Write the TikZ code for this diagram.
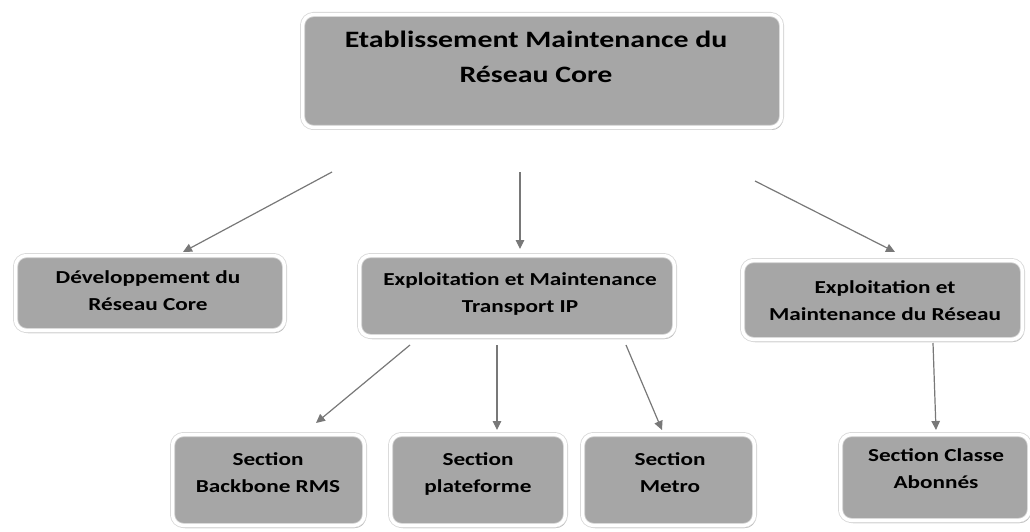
\documentclass[tikz,border=0pt]{standalone}
\usepackage{fontspec}
\setmainfont{Carlito}
\newfontfamily\boxfont[FakeStretch=1.27]{Carlito}
\usetikzlibrary{arrows.meta,shadows}
\definecolor{boxgray}{RGB}{166,166,166}
\definecolor{rimgray}{RGB}{214,214,214}
\definecolor{arrowgray}{RGB}{120,120,120}
\definecolor{shadegray}{RGB}{150,150,150}
\begin{document}
\begin{tikzpicture}[x=1pt,y=-1pt,
  orgbox/.style={draw=rimgray, line width=0.8pt, double=white, double distance=3.4pt,
    fill=boxgray, rounded corners=11pt, inner sep=0pt,
    drop shadow={shadow xshift=1.5pt, shadow yshift=-2.5pt, fill=shadegray, opacity=0.8}},
  bigtxt/.style={anchor=base, align=center, font=\boxfont\fontsize{23.5}{35}\selectfont\bfseries},
  txt/.style={anchor=base, align=center, font=\boxfont\fontsize{18.3}{27}\selectfont\bfseries},
  link/.style={draw=arrowgray, line width=1.2pt, -{Triangle[length=9pt,width=8.5pt]}, arrowgray}]
\useasboundingbox (0,0) rectangle (1030,532);

% boxes
\node[orgbox, minimum width=479pt, minimum height=113pt] (root) at (542,71) {};
\node[orgbox, minimum width=269pt, minimum height=75pt] (dev) at (150,293) {};
\node[orgbox, minimum width=315pt, minimum height=81pt] (trans) at (517,296) {};
\node[orgbox, minimum width=280pt, minimum height=79pt] (res) at (882.5,300) {};
\node[orgbox, minimum width=192pt, minimum height=91pt] (rms) at (268.5,480) {};
\node[orgbox, minimum width=175pt, minimum height=91pt] (plat) at (478,480) {};
\node[orgbox, minimum width=172pt, minimum height=91pt] (metro) at (668.5,480) {};
\node[orgbox, minimum width=189pt, minimum height=86pt] (abo) at (935,477.5) {};

% labels (anchored on the baseline of their last line)
\node[bigtxt] (rootlbl) at (536,83) {Etablissement Maintenance du\\Réseau Core};
\node[txt] (devlbl) at (148,310) {Développement du\\Réseau Core};
\node[txt] (translbl) at (520,312) {Exploitation et Maintenance\\Transport IP};
\node[txt] (reslbl) at (885,320) {Exploitation et\\Maintenance du Réseau};
\node[txt] (rmslbl) at (268,492) {Section\\Backbone RMS};
\node[txt] (platlbl) at (478,492) {Section\\plateforme};
\node[txt] (metrolbl) at (670,492) {Section\\Metro};
\node[txt] (abolbl) at (936,488) {Section Classe\\Abonnés};

% connector end points
\coordinate (s1) at (332,172);  \coordinate (e1) at (183,252);
\coordinate (s2) at (520,172);  \coordinate (e2) at (520,249);
\coordinate (s3) at (755,181);  \coordinate (e3) at (895,252);
\coordinate (s4) at (410,345);  \coordinate (e4) at (316,423);
\coordinate (s5) at (497,345);  \coordinate (e5) at (497,430);
\coordinate (s6) at (626,345);  \coordinate (e6) at (662,430);
\coordinate (s7) at (933,343);  \coordinate (e7) at (936,430);

\draw[link] (s1) -- (e1);
\draw[link] (s2) -- (e2);
\draw[link] (s3) -- (e3);
\draw[link] (s4) -- (e4);
\draw[link] (s5) -- (e5);
\draw[link] (s6) -- (e6);
\draw[link] (s7) -- (e7);
\end{tikzpicture}
\end{document}
